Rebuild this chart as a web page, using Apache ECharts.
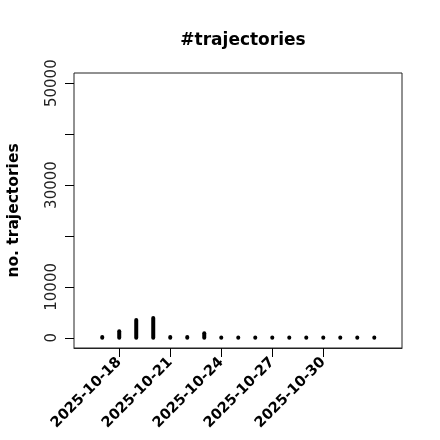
<!DOCTYPE html>
<html>
<head>
<meta charset="utf-8">
<script src="https://cdn.jsdelivr.net/npm/echarts@6/dist/echarts.min.js"></script>
<style>html,body{margin:0;padding:0;background:#fff}#c{width:440px;height:440px}</style>
</head>
<body>
<div id="c"></div>
<script>
const dates = ['2025-10-17','2025-10-18','2025-10-19','2025-10-20','2025-10-21','2025-10-22','2025-10-23','2025-10-24','2025-10-25','2025-10-26','2025-10-27','2025-10-28','2025-10-29','2025-10-30','2025-10-31','2025-11-01','2025-11-02'];
const counts = [150, 1300, 3500, 3900, 150, 150, 900, 60, 60, 60, 60, 60, 60, 60, 60, 60, 60];
const xTickDates = ['2025-10-18','2025-10-21','2025-10-24','2025-10-27','2025-10-30'];
const yTicks = [0, 10000, 20000, 30000, 40000, 50000];
const yLabels = [0, 10000, 30000, 50000];

const DAY = 86400000;
function ts(s){const [y,m,d]=s.split('-').map(Number);return Date.UTC(y,m-1,d);}
function fmt(v){const d=new Date(v);const p=n=>String(n).padStart(2,'0');return d.getUTCFullYear()+'-'+p(d.getUTCMonth()+1)+'-'+p(d.getUTCDate());}
const data = dates.map((d,i)=>[ts(d), counts[i]]);
const t0 = ts(dates[0]);

const chart = echarts.init(document.getElementById('c'), null, {renderer:'canvas'});
chart.setOption({
  animation:false,
  title:{text:'#trajectories', left:238, top:27, textAlign:'center',
    textStyle:{fontFamily:'DejaVu Sans', fontWeight:'bold', fontSize:17, color:'#000'}},
  grid:{left:74, right:38, top:73, bottom:92, show:true, borderColor:'#222', borderWidth:1, backgroundColor:'transparent', containLabel:false, outerBoundsMode:'none'},
  xAxis:{type:'value', position:'bottom', min:t0-1.66*DAY, max:t0+17.63*DAY,
    axisLine:{show:true, onZero:false, lineStyle:{color:'#222', width:1}}, splitLine:{show:false},
    axisTick:{show:true, inside:false, length:9, lineStyle:{color:'#000'}, customValues:xTickDates.map(ts)},
    axisLabel:{show:true, rotate:45, margin:12, customValues:xTickDates.map(ts), formatter:v=>fmt(v),
      fontFamily:'DejaVu Sans', fontWeight:'bold', fontSize:14.5, color:'#000'}},
  yAxis:{type:'value', min:-2000, max:52000,
    name:'no. trajectories', nameLocation:'middle', nameGap:52, nameRotate:90,
    nameTextStyle:{fontFamily:'DejaVu Sans', fontWeight:'bold', fontSize:15.5, color:'#000'},
    axisLine:{show:false, onZero:false}, splitLine:{show:false},
    axisTick:{show:true, length:9, lineStyle:{color:'#000'}, customValues:yTicks},
    axisLabel:{show:true, rotate:90, margin:14, customValues:yLabels, formatter:v=>String(v),
      fontFamily:'DejaVu Sans', fontSize:15, color:'#222'}},
  series:[{type:'custom', data:data, encode:{x:0,y:1},
    renderItem:function(params, api){
      const p0 = api.coord([api.value(0), 0]);
      const p1 = api.coord([api.value(0), api.value(1)]);
      return {type:'line', shape:{x1:p0[0], y1:p0[1], x2:p1[0], y2:p1[1]},
        style:{stroke:'#000', lineWidth:4, lineCap:'round'}};
    }}]
});
</script>
</body>
</html>
